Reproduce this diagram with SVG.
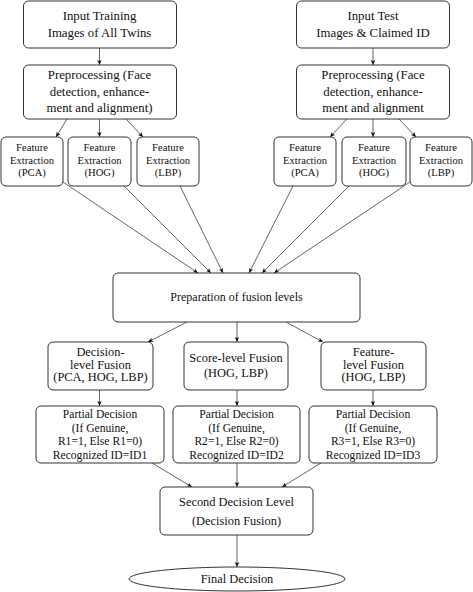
<svg xmlns="http://www.w3.org/2000/svg" width="473" height="592" viewBox="0 0 473 592">
<defs>
<style>
.box{fill:#fff;stroke:#333;stroke-width:1}
text{fill:#111;text-anchor:middle}
.l{font-size:12.8px}
.s{font-size:10.6px}
.m{font-size:12.4px}
.p{font-size:11.6px}
.c line{stroke:#222;stroke-width:0.7;marker-end:url(#ah)}
</style>
<marker id="ah" viewBox="0 0 8 8" refX="8" refY="4" markerWidth="5" markerHeight="5" orient="auto" markerUnits="userSpaceOnUse">
<path d="M0,0.5 L8,4 L0,7.5 L2,4 Z" fill="#111"/>
</marker>
</defs>
<rect width="473" height="592" fill="#fff"/>
<g id="connectors" class="c">
<line x1="99.5" y1="48" x2="99.5" y2="65"/>
<line x1="373" y1="48" x2="373" y2="65"/>
<line x1="67" y1="119" x2="56" y2="137"/>
<line x1="99.5" y1="119" x2="99.5" y2="137"/>
<line x1="126" y1="119" x2="143" y2="137"/>
<line x1="347" y1="119" x2="330" y2="137"/>
<line x1="373" y1="119" x2="373" y2="137"/>
<line x1="399" y1="119" x2="416" y2="137"/>
<line x1="63" y1="182" x2="198" y2="273"/>
<line x1="124" y1="186" x2="211" y2="273"/>
<line x1="180" y1="186" x2="223" y2="273"/>
<line x1="293" y1="186" x2="249" y2="273"/>
<line x1="349" y1="186" x2="262" y2="273"/>
<line x1="410" y1="182" x2="274" y2="273"/>
<line x1="187" y1="322" x2="148" y2="342"/>
<line x1="237" y1="322" x2="237" y2="342"/>
<line x1="286" y1="322" x2="323" y2="342"/>
<line x1="99.5" y1="390" x2="99.5" y2="406"/>
<line x1="237" y1="390" x2="237" y2="406"/>
<line x1="373" y1="390" x2="373" y2="406"/>
<line x1="152" y1="463" x2="192" y2="487"/>
<line x1="237" y1="463" x2="237" y2="487"/>
<line x1="321" y1="463" x2="282" y2="487"/>
<line x1="237" y1="535" x2="237" y2="567"/>
</g>
<g font-family="'Liberation Serif', 'Times New Roman', Times, serif">
<g id="input-training">
<rect class="box" x="23.5" y="1" width="153" height="47" rx="5"/>
<text class="l" x="99.5" y="20">Input Training</text>
<text class="l" x="99.5" y="36.5">Images of All Twins</text>
</g>
<g id="input-test">
<rect class="box" x="296.5" y="1" width="153" height="47" rx="5"/>
<text class="l" x="373" y="20">Input Test</text>
<text class="l" x="373" y="36.5">Images &amp; Claimed ID</text>
</g>
<g id="preprocessing-left">
<rect class="box" x="23.5" y="65" width="153" height="54" rx="5"/>
<text class="l" x="99.5" y="79">Preprocessing (Face</text>
<text class="l" x="99.5" y="95.5">detection, enhance-</text>
<text class="l" x="99.5" y="112">ment and alignment)</text>
</g>
<g id="preprocessing-right">
<rect class="box" x="296.5" y="65" width="153" height="54" rx="5"/>
<text class="l" x="373" y="79">Preprocessing (Face</text>
<text class="l" x="373" y="95.5">detection, enhance-</text>
<text class="l" x="373" y="112">ment and alignment</text>
</g>
<g id="fe-pca-left">
<rect class="box" x="1" y="137" width="62" height="49" rx="5"/>
<text class="s" x="32" y="151">Feature</text>
<text class="s" x="32" y="163.5">Extraction</text>
<text class="s" x="32" y="176">(PCA)</text>
</g>
<g id="fe-hog-left">
<rect class="box" x="68" y="137" width="63" height="49" rx="5"/>
<text class="s" x="99.5" y="151">Feature</text>
<text class="s" x="99.5" y="163.5">Extraction</text>
<text class="s" x="99.5" y="176">(HOG)</text>
</g>
<g id="fe-lbp-left">
<rect class="box" x="137" y="137" width="62" height="49" rx="5"/>
<text class="s" x="168" y="151">Feature</text>
<text class="s" x="168" y="163.5">Extraction</text>
<text class="s" x="168" y="176">(LBP)</text>
</g>
<g id="fe-pca-right">
<rect class="box" x="274" y="137" width="62" height="49" rx="5"/>
<text class="s" x="305" y="151">Feature</text>
<text class="s" x="305" y="163.5">Extraction</text>
<text class="s" x="305" y="176">(PCA)</text>
</g>
<g id="fe-hog-right">
<rect class="box" x="342" y="137" width="64" height="49" rx="5"/>
<text class="s" x="374" y="151">Feature</text>
<text class="s" x="374" y="163.5">Extraction</text>
<text class="s" x="374" y="176">(HOG)</text>
</g>
<g id="fe-lbp-right">
<rect class="box" x="410" y="137" width="62" height="49" rx="5"/>
<text class="s" x="441" y="151">Feature</text>
<text class="s" x="441" y="163.5">Extraction</text>
<text class="s" x="441" y="176">(LBP)</text>
</g>
<g id="preparation">
<rect class="box" x="113" y="273" width="247" height="49" rx="5"/>
<text font-size="12" x="236.5" y="301">Preparation of fusion levels</text>
</g>
<g id="decision-level">
<rect class="box" x="48" y="342" width="105" height="48" rx="5"/>
<text class="m" x="100.5" y="356">Decision-</text>
<text class="m" x="100.5" y="368.5">level Fusion</text>
<text class="m" x="100.5" y="381">(PCA, HOG, LBP)</text>
</g>
<g id="score-level">
<rect class="box" x="184" y="342" width="104" height="48" rx="5"/>
<text class="m" x="236" y="362">Score-level Fusion</text>
<text class="m" x="236" y="377">(HOG, LBP)</text>
</g>
<g id="feature-level">
<rect class="box" x="321" y="342" width="105" height="48" rx="5"/>
<text class="m" x="373.5" y="356">Feature-</text>
<text class="m" x="373.5" y="368.5">level Fusion</text>
<text class="m" x="373.5" y="381">(HOG, LBP)</text>
</g>
<g id="partial-1">
<rect class="box" x="36" y="406" width="128" height="57" rx="5"/>
<text class="p" x="100" y="418">Partial Decision</text>
<text class="p" x="100" y="431.5">(If Genuine,</text>
<text class="p" x="100" y="445">R1=1, Else R1=0)</text>
<text class="p" x="100" y="458.5">Recognized ID=ID1</text>
</g>
<g id="partial-2">
<rect class="box" x="173" y="406" width="127" height="57" rx="5"/>
<text class="p" x="236.5" y="418">Partial Decision</text>
<text class="p" x="236.5" y="431.5">(If Genuine,</text>
<text class="p" x="236.5" y="445">R2=1, Else R2=0)</text>
<text class="p" x="236.5" y="458.5">Recognized ID=ID2</text>
</g>
<g id="partial-3">
<rect class="box" x="309" y="406" width="128" height="57" rx="5"/>
<text class="p" x="373" y="418">Partial Decision</text>
<text class="p" x="373" y="431.5">(If Genuine,</text>
<text class="p" x="373" y="445">R3=1, Else R3=0)</text>
<text class="p" x="373" y="458.5">Recognized ID=ID3</text>
</g>
<g id="second-decision">
<rect class="box" x="160" y="487" width="153" height="48" rx="5"/>
<text class="m" x="236.5" y="506">Second Decision Level</text>
<text class="m" x="236.5" y="524.5">(Decision Fusion)</text>
</g>
<g id="final-decision">
<ellipse class="box" cx="237" cy="579" rx="108" ry="12"/>
<text class="m" x="237" y="583">Final Decision</text>
</g>
</g>
</svg>
